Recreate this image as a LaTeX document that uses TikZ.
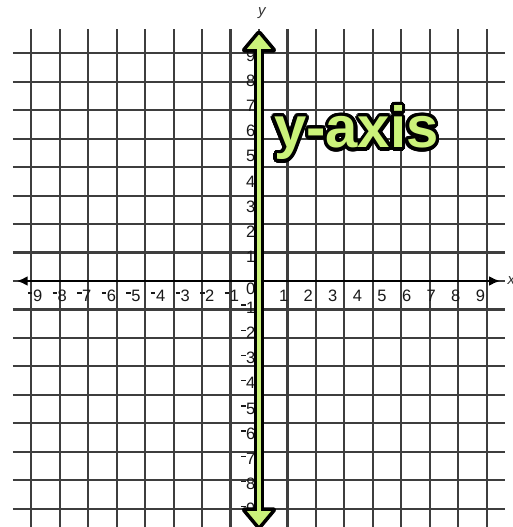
\documentclass[tikz,border=0pt]{standalone}
\usepackage{fontspec}
\setmainfont{Liberation Sans}
\usetikzlibrary{arrows.meta}
\definecolor{axgreen}{RGB}{203,242,122}
\definecolor{gridgray}{RGB}{62,62,62}
\newcommand\nmin{\rule[7.5pt]{4.5pt}{1.4pt}\hspace{0.6pt}}
\begin{document}
\begin{tikzpicture}[x=24.6pt,y=25.2pt,
  gridline/.style={draw=gridgray,line width=2.2pt},
  numlab/.style={font=\fontsize{16.5pt}{16.5pt}\selectfont,text=black!90,inner sep=0pt},
  xnum/.style={numlab,anchor=base,yshift=-20pt},
  ynum/.style={numlab,anchor=base east,xshift=-3.5pt,yshift=-7pt},
  title/.style={font=\fontsize{58pt}{58pt}\selectfont\bfseries,inner sep=0pt,anchor=base},
  axtip/.tip={Latex[length=11pt,width=10pt]}]
\useasboundingbox (-259pt,-246pt) rectangle (254pt,281pt);
\fill[white] (-259pt,-246pt) rectangle (254pt,281pt);
% grid
\draw[gridline] (-10,-10) grid (10,10);
% x-axis
\coordinate (xl) at (-9.85,0);
\coordinate (xr) at (9.8,0);
\draw[line width=2.6pt,axtip-axtip] (xl) -- (xr);
% numbers
\foreach \i in {1,...,9} {
  \node[xnum] (xp\i) at (\i,0) {\i};
  \node[xnum] (xn\i) at (-\i,0) {\llap{\nmin}\i};
  \node[ynum] (yp\i) at (0,\i) {\i};
  \node[ynum] (yn\i) at (0,-\i) {\nmin\i};
}
\node[ynum,yshift=-7pt] (zero) at (0,0) {0};
% axis names
\node[font=\itshape\fontsize{15pt}{15pt}\selectfont,anchor=west,inner sep=0pt,text=black!80] (xlab) at (10.1,0) {x};
\node[font=\itshape\fontsize{15pt}{15pt}\selectfont,inner sep=0pt,text=black!80] (ylab) at (0.12,10.63) {y};
% y-axis
\coordinate (yb) at (0,-9.05);
\coordinate (yt) at (0,9.13);
\draw[black,line width=10pt] (yb) -- (yt);
\filldraw[fill=axgreen,draw=black,line width=3.5pt,line join=round,rounded corners=1.5pt]
  (-0.66,9.13) -- (0,9.9) -- (0.66,9.13) -- cycle;
\filldraw[fill=axgreen,draw=black,line width=3.5pt,line join=round,rounded corners=1.5pt]
  (-0.66,-9.05) -- (0,-9.82) -- (0.66,-9.05) -- cycle;
\draw[axgreen,line width=3.5pt] (0,-9.3) -- (0,9.4);
% title
\foreach \a in {0,15,...,345} {
  \node[title,text=black,shift={(\a:3.4pt)}] (tb\a) at (3.96,5.28) {y-axis};
  \node[title,text=black,shift={(\a:1.7pt)}] (tc\a) at (3.96,5.28) {y-axis};
}
\node[title,text=axgreen] (title) at (3.96,5.28) {y-axis};
\end{tikzpicture}
\end{document}
